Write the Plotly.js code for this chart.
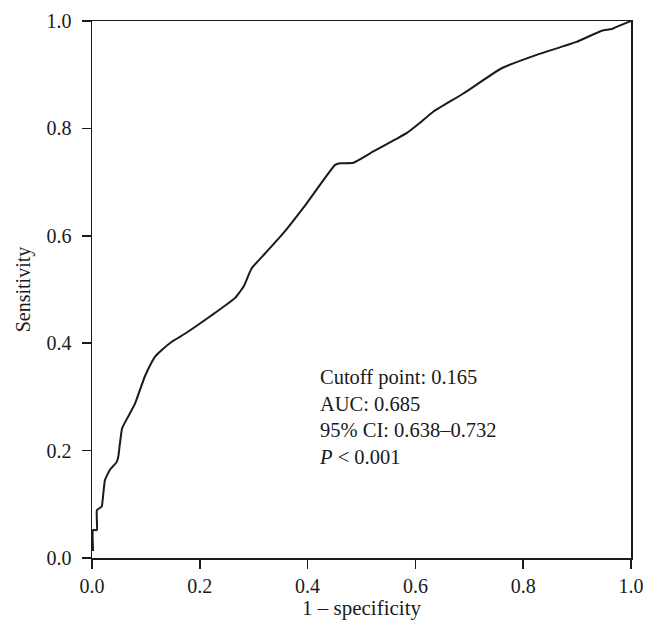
<!DOCTYPE html>
<html>
<head>
<meta charset="utf-8">
<script src="https://cdn.plot.ly/plotly-3.0.1.min.js"></script>
<style>
  html, body { margin: 0; padding: 0; background: #fff; }
  #chart { width: 657px; height: 640px; }
</style>
</head>
<body>
<div id="chart"></div>
<script>
// 1 - specificity (false positive rate)
const fpr = [0.002,0.002,0.009,0.009,0.018,0.021,0.024,0.033,0.046,0.049,0.052,0.056,0.068,0.08,0.098,0.111,0.117,0.129,0.15,0.173,0.222,0.265,0.281,0.296,0.321,0.355,0.398,0.451,0.46,0.485,0.522,0.562,0.585,0.608,0.633,0.689,0.76,0.825,0.899,0.946,0.964,0.98,1.0];
// Sensitivity (true positive rate)
const tpr = [0.013,0.052,0.052,0.089,0.096,0.12,0.145,0.164,0.179,0.19,0.215,0.242,0.265,0.288,0.338,0.365,0.375,0.387,0.404,0.418,0.452,0.484,0.505,0.539,0.567,0.605,0.66,0.732,0.735,0.736,0.757,0.779,0.792,0.81,0.831,0.865,0.912,0.937,0.961,0.982,0.985,0.992,1.0];

const tickVals = [0, 0.2, 0.4, 0.6, 0.8, 1.0];
const tickText = ["0.0", "0.2", "0.4", "0.6", "0.8", "1.0"];
const statLines = ["Cutoff point: 0.165", "AUC: 0.685", "95% CI: 0.638\u20130.732", "<i>P</i> &lt; 0.001"];

const serif = "Liberation Serif, Times New Roman, serif";

const trace = {
  x: fpr, y: tpr, type: "scatter", mode: "lines",
  line: { color: "#1a1a1a", width: 2, shape: "spline", smoothing: 0.4 },
  hoverinfo: "skip", showlegend: false
};

const axisCommon = {
  range: [0, 1], showgrid: false, zeroline: false,
  showline: true, linecolor: "#1a1a1a", linewidth: 1.5, mirror: true,
  ticks: "outside", ticklen: 9, tickwidth: 1.5, tickcolor: "#1a1a1a",
  tickvals: tickVals, ticktext: tickText,
  tickfont: { family: serif, size: 20, color: "#1a1a1a" },
  fixedrange: true
};

const layout = {
  width: 657, height: 640,
  margin: { l: 92, r: 26, t: 21, b: 82 },
  paper_bgcolor: "#fff", plot_bgcolor: "#fff",
  font: { family: serif, color: "#1a1a1a" },
  xaxis: Object.assign({}, axisCommon, {
    title: { text: "1 \u2013 specificity", font: { family: serif, size: 21, color: "#1a1a1a" }, standoff: 5 },
    automargin: false
  }),
  yaxis: Object.assign({}, axisCommon, {
    ticklabelstandoff: 6,
    title: { text: "Sensitivity", font: { family: serif, size: 20, color: "#1a1a1a" }, standoff: 10 },
    automargin: false
  }),
  annotations: [{
    xref: "paper", yref: "paper", x: 0.4174, y: 0.2626,
    xanchor: "left", yanchor: "middle", align: "left",
    showarrow: false,
    text: statLines.join("<br>"),
    font: { family: serif, size: 20.5, color: "#1a1a1a" }
  }]
};

Plotly.newPlot("chart", [trace], layout, { displayModeBar: false, staticPlot: true });
</script>
</body>
</html>
